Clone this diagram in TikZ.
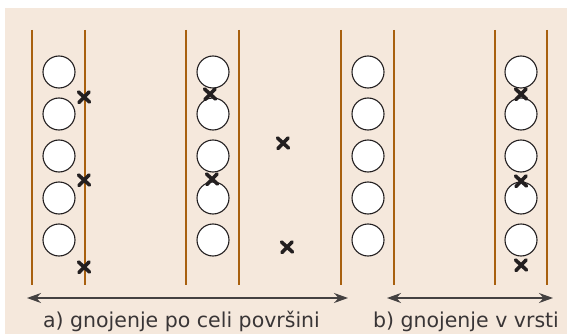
\documentclass[tikz,border=0pt]{standalone}
\usepackage{fontspec}
\setmainfont{DejaVu Sans}
\usetikzlibrary{arrows.meta}
\definecolor{bgc}{HTML}{F5E8DC}
\definecolor{rowc}{HTML}{A8600F}
\definecolor{inkc}{HTML}{231F20}
\tikzset{
  plant/.style={circle,draw=inkc,line width=1.1pt,fill=white,minimum size=32pt,inner sep=0pt},
  rowline/.style={draw=rowc,line width=2.2pt},
  fert/.style={draw=inkc,line width=3.6pt,line cap=round},
  dimarrow/.style={draw=inkc!85,line width=1.3pt,{Stealth[length=14pt,width=10pt]}-{Stealth[length=14pt,width=10pt]}},
  caption/.style={font=\fontsize{20.5}{24}\selectfont,text=inkc!90,anchor=base,inner sep=0pt}
}
\newcommand{\fmark}[3]{%
  \coordinate (#1) at (#2,#3);
  \draw[fert] ([shift={(-5.5,-5)}]#1) -- ([shift={(5.5,5)}]#1);
  \draw[fert] ([shift={(-5,5.5)}]#1) -- ([shift={(5,-5)}]#1);
}
\begin{document}
\begin{tikzpicture}[x=1pt,y=-1pt]
\useasboundingbox (0,0) rectangle (567,334);
\fill[bgc] (5,8) rectangle (567,334);
% row lines
\foreach \i/\x in {1/32,2/85,3/186,4/239,5/341,6/394,7/495,8/547}{
  \coordinate (t\i) at (\x,30);
  \coordinate (b\i) at (\x,285);
  \draw[rowline] (t\i) -- (b\i);
}
% plants
\foreach \c/\x in {1/59,2/213,3/368,4/521}{
  \foreach \r/\y in {1/72,2/114,3/156,4/198,5/240}{
    \node[plant] (p\c\r) at (\x,\y) {};
  }
}
% fertilizer marks
\fmark{f1}{84}{97}
\fmark{f2}{84}{180}
\fmark{f3}{84}{267}
\fmark{f4}{210}{94}
\fmark{f5}{212}{179}
\fmark{f6}{283}{143}
\fmark{f7}{287}{247}
\fmark{f8}{521}{94}
\fmark{f9}{521}{181}
\fmark{f10}{521}{265}
% arrows
\coordinate (aL) at (27,298);
\coordinate (aR) at (348,298);
\coordinate (bL) at (387,298);
\coordinate (bR) at (553,298);
\draw[dimarrow] (aL) -- (aR);
\draw[dimarrow] (bL) -- (bR);
\node[caption] (ca) at (181.5,327) {a) gnojenje po celi površini};
\node[caption] (cb) at (466,327) {b) gnojenje v vrsti};
\end{tikzpicture}
\end{document}
